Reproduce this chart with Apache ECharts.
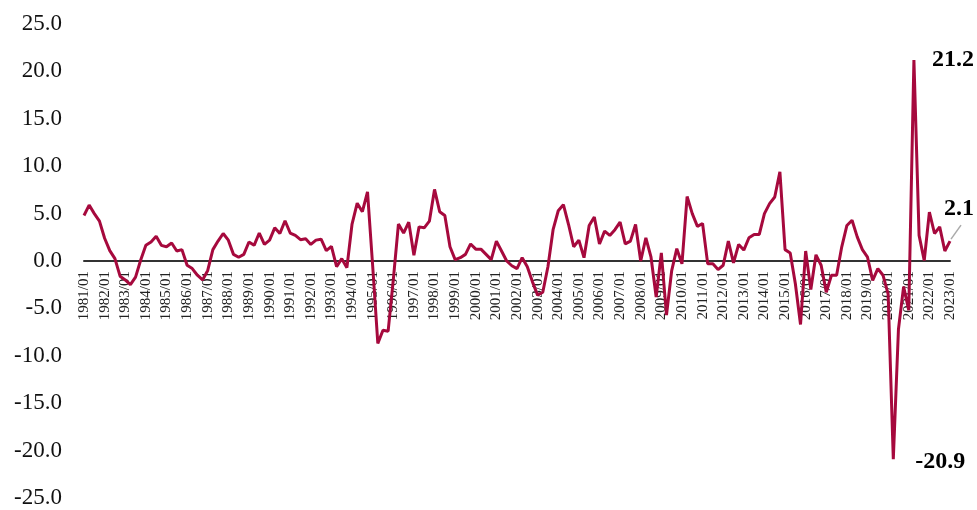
<!DOCTYPE html>
<html>
<head>
<meta charset="utf-8">
<script src="https://cdn.jsdelivr.net/npm/echarts@6/dist/echarts.min.js"></script>
<style>
html,body{margin:0;padding:0;background:#fff;}
#chart{width:977px;height:510px;}
</style>
</head>
<body>
<div id="chart"></div>
<script>
// Quarterly categories 1981/01 ... 2023/01
const startYear = 1981;
const endYear = 2023;
const quarterMonths = ['01', '04', '07', '10'];
const categories = [];
for (let y = startYear; y <= endYear; y++) {
  for (const m of quarterMonths) {
    if (y === endYear && m !== '01') break;
    categories.push(y + '/' + m);
  }
}

// Series values
const values = [
  4.8, 5.9, 5.0, 4.2,
  2.4, 1.1, 0.25, -1.6,
  -2.0, -2.5, -1.7, 0.1,
  1.65, 2.0, 2.6, 1.65,
  1.5, 1.9, 1.05, 1.2,
  -0.45, -0.8, -1.5, -2.0,
  -1.0, 1.2, 2.1, 2.9,
  2.2, 0.7, 0.4, 0.7,
  2.0, 1.65, 2.95, 1.75,
  2.2, 3.5, 2.9, 4.25,
  2.95, 2.7, 2.25, 2.35,
  1.75, 2.2, 2.3, 1.1,
  1.55, -0.6, 0.25, -0.7,
  3.9, 6.1, 5.2, 7.3,
  -0.5, -8.7, -7.3, -7.4,
  -2.0, 3.9, 2.95, 4.1,
  0.6, 3.6, 3.5, 4.2,
  7.55, 5.2, 4.8, 1.5,
  0.15, 0.35, 0.7, 1.8,
  1.25, 1.25, 0.7, 0.15,
  2.1, 1.05, 0.0, -0.5,
  -0.8, 0.35, -0.6, -2.2,
  -3.6, -3.3, -0.6, 3.3,
  5.3, 5.95, 3.85, 1.5,
  2.2, 0.35, 3.75, 4.65,
  1.8, 3.15, 2.7, 3.3,
  4.1, 1.8, 2.1, 3.85,
  0.0, 2.45, 0.4, -3.8,
  0.85, -5.7, -1.05, 1.3,
  -0.3, 6.8, 5.0, 3.65,
  3.95, -0.3, -0.3, -0.9,
  -0.45, 2.1, -0.2, 1.75,
  1.15, 2.45, 2.8, 2.8,
  5.0, 6.05, 6.75, 9.4,
  1.2, 0.85, -2.4, -6.7,
  1.05, -3.0, 0.65, -0.45,
  -3.3, -1.5, -1.5, 1.5,
  3.75, 4.3, 2.55, 1.2,
  0.4, -2.05, -0.8, -1.5,
  -3.5, -20.9, -7.2, -2.7,
  -5.2, 21.2, 2.7, 0.05,
  5.15, 2.9, 3.6, 1.05,
  2.1
];

// Y axis tick settings
const yMin = -25, yMax = 25, yStep = 5;

const W = 977, H = 510;
const gridTop = 24, gridBottom = 12;
const gridH = H - gridTop - gridBottom;
// move the category axis up to the zero line
const zeroOffset = -gridH * (0 - yMin) / (yMax - yMin);

const lineColor = '#A6093D';
const maxIdx = values.indexOf(Math.max(...values));
const minIdx = values.indexOf(Math.min(...values));
const lastIdx = values.length - 1;

const labelBase = {
  show: true,
  fontFamily: 'Liberation Serif',
  fontWeight: 'bold',
  fontSize: 24,
  color: '#000',
  formatter: p => Number(p.value).toFixed(1)
};

const seriesData = values.map((v, i) => {
  if (i === maxIdx) {
    return { value: v, label: Object.assign({}, labelBase, { position: 'right', distance: 18 }) };
  }
  if (i === minIdx) {
    return { value: v, label: Object.assign({}, labelBase, { position: 'right', distance: 22, offset: [0, 3] }) };
  }
  if (i === lastIdx) {
    return { value: v, label: Object.assign({}, labelBase, { position: 'top', distance: 5, offset: [9, -15] }) };
  }
  return v;
});

const chart = echarts.init(document.getElementById('chart'));
chart.setOption({
  animation: false,
  backgroundColor: '#fff',
  textStyle: { fontFamily: 'Liberation Serif' },
  grid: { left: 84, right: 27, top: gridTop, bottom: gridBottom, containLabel: false, outerBoundsMode: 'none' },
  xAxis: {
    type: 'category',
    data: categories,
    boundaryGap: false,
    offset: zeroOffset,
    axisLine: { show: true, onZero: false, lineStyle: { color: '#333', width: 2 } },
    axisTick: { show: false },
    axisLabel: {
      interval: 3,
      rotate: 90,
      margin: 10,
      fontSize: 15,
      color: '#222',
      fontFamily: 'Liberation Serif'
    },
    splitLine: { show: false }
  },
  yAxis: {
    type: 'value',
    min: yMin,
    max: yMax,
    interval: yStep,
    axisLine: { show: false },
    axisTick: { show: false },
    splitLine: { show: false },
    axisLabel: {
      margin: 22,
      fontSize: 23,
      color: '#111',
      fontFamily: 'Liberation Serif',
      formatter: v => v.toFixed(1)
    }
  },
  series: [{
    type: 'line',
    data: seriesData,
    symbol: 'circle',
    symbolSize: 0,
    showSymbol: true,
    showAllSymbol: true,
    lineStyle: { color: lineColor, width: 3 },
    itemStyle: { color: lineColor },
    label: { show: false },
    z: 3
  }]
});

// gray leader line from the last point towards its label
const lastPt = chart.convertToPixel({ seriesIndex: 0 }, [lastIdx, values[lastIdx]]);
chart.setOption({
  graphic: [{
    type: 'line',
    shape: { x1: lastPt[0] + 1, y1: lastPt[1] - 2, x2: lastPt[0] + 11, y2: lastPt[1] - 16 },
    style: { stroke: '#aaa', lineWidth: 1.5 },
    z: 10
  }]
});
</script>
</body>
</html>
